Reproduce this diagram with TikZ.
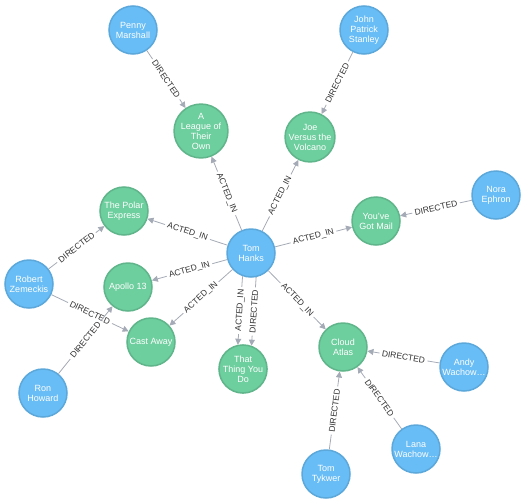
\documentclass[tikz,border=0pt]{standalone}
\usepackage{fontspec}
\setmainfont{Liberation Sans}
\usepackage{tikz}
\usetikzlibrary{arrows.meta, positioning}

\definecolor{person}{HTML}{68BDF6}
\definecolor{personline}{HTML}{5CA8DB}
\definecolor{movie}{HTML}{6DCE9E}
\definecolor{movieline}{HTML}{60B58B}
\definecolor{relline}{HTML}{A5ABB6}
\definecolor{reltext}{HTML}{333333}

\begin{document}
\begin{tikzpicture}[
        x=1pt, y=-1pt,
        actor/.style={circle, draw=personline, fill=person, line width=1.5pt, minimum size=48pt, inner sep=0pt, align=center, text=white, font=\fontsize{9}{10}\selectfont},
        film/.style={actor, draw=movieline, fill=movie},
        rel/.style={->, >={Triangle[width=6pt,length=6pt]}, draw=relline, line width=0.8pt},
        lbl/.style={font=\fontsize{8.5}{9}\selectfont, text=reltext, fill=white, inner xsep=2.5pt, inner ysep=1pt, sloped, midway}
    ]
        \useasboundingbox (0,0) rectangle (526,503);

        % Centre: the actor
        \node[actor] (hanks) at (251,253) {Tom\\Hanks};

        % Movies
        \node[film] (league) at (201,131) {A\\League of\\Their\\Own};
        \node[film] (joe) at (310,137) {Joe\\Versus the\\Volcano};
        \node[film] (polar) at (124,211) {The Polar\\Express};
        \node[film] (mail) at (376,221) {You've\\Got Mail};
        \node[film] (apollo) at (128,287) {Apollo 13};
        \node[film] (castaway) at (151,342) {Cast Away};
        \node[film] (thing) at (243,369) {That\\Thing You\\Do};
        \node[film] (cloud) at (343,347) {Cloud\\Atlas};

        % Directors
        \node[actor] (penny) at (133,30) {Penny\\Marshall};
        \node[actor] (john) at (364,30) {John\\Patrick\\Stanley};
        \node[actor] (nora) at (496,195) {Nora\\Ephron};
        \node[actor] (robert) at (29,284) {Robert\\Zemeckis};
        \node[actor] (ron) at (43,393) {Ron\\Howard};
        \node[actor] (andy) at (464,367) {Andy\\Wachow…};
        \node[actor] (lana) at (416,449) {Lana\\Wachow…};
        \node[actor] (tykwer) at (326,474) {Tom\\Tykwer};

        % ACTED_IN relations
        \draw[rel] (hanks) -- node[lbl] {ACTED\_IN} (league);
        \draw[rel] (hanks) -- node[lbl] {ACTED\_IN} (joe);
        \draw[rel] (hanks) -- node[lbl] {ACTED\_IN} (polar);
        \draw[rel] (hanks) -- node[lbl] {ACTED\_IN} (mail);
        \draw[rel] (hanks) -- node[lbl] {ACTED\_IN} (apollo);
        \draw[rel] (hanks) -- node[lbl] {ACTED\_IN} (castaway);
        \draw[rel] (hanks) -- node[lbl] {ACTED\_IN} (cloud);

        % Two relations side by side
        \draw[rel] (hanks.-110) -- node[lbl] {ACTED\_IN} (thing.102);
        \draw[rel] (hanks.-78) -- node[lbl] {DIRECTED} (thing.70);

        % DIRECTED relations
        \draw[rel] (penny) -- node[lbl] {DIRECTED} (league);
        \draw[rel] (john) -- node[lbl] {DIRECTED} (joe);
        \draw[rel] (nora) -- node[lbl] {DIRECTED} (mail);
        \draw[rel] (robert) -- node[lbl] {DIRECTED} (polar);
        \draw[rel] (robert) -- node[lbl] {DIRECTED} (castaway);
        \draw[rel] (ron) -- node[lbl] {DIRECTED} (apollo);
        \draw[rel] (andy) -- node[lbl] {DIRECTED} (cloud);
        \draw[rel] (lana) -- node[lbl] {DIRECTED} (cloud);
        \draw[rel] (tykwer) -- node[lbl] {DIRECTED} (cloud);

    \end{tikzpicture}
\end{document}
